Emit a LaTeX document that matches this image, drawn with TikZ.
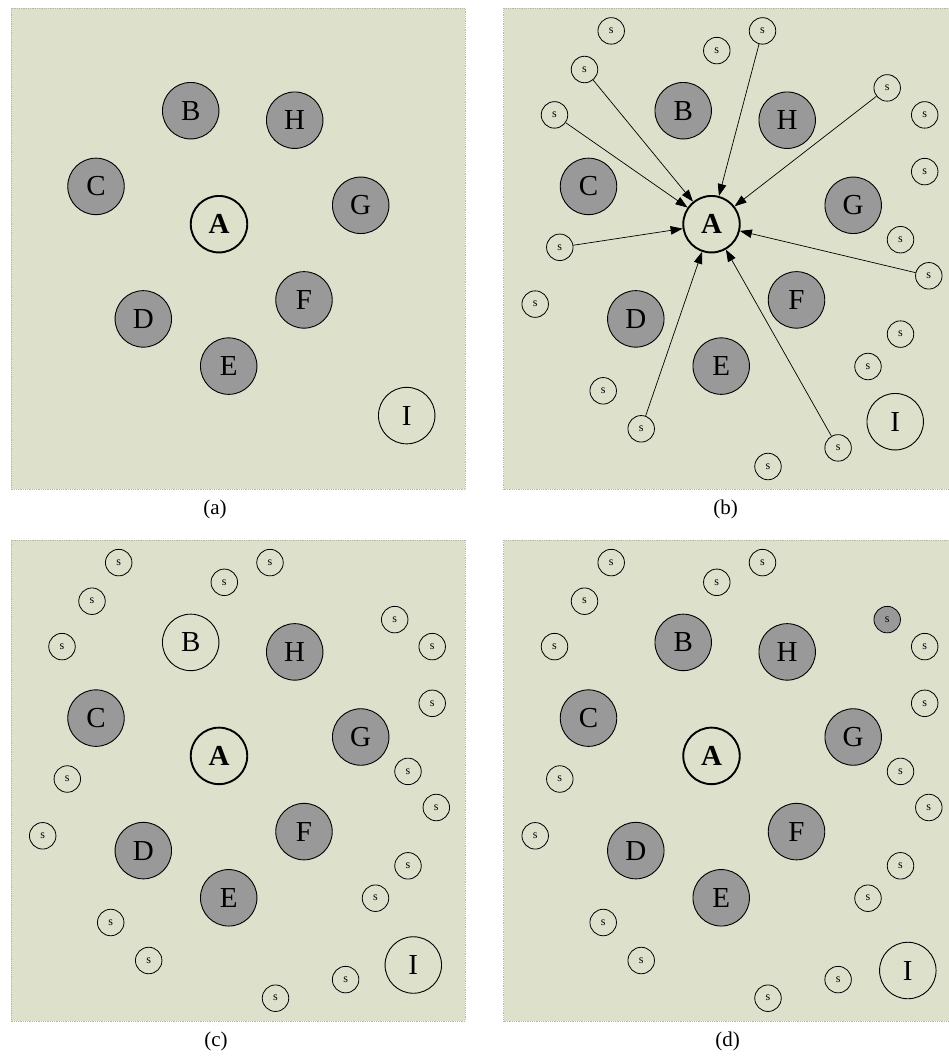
\documentclass[tikz,border=0pt]{standalone}
\usepackage{fontspec}
\setmainfont{Liberation Serif}
\usetikzlibrary{arrows.meta}
\definecolor{bgc}{HTML}{DDE1CC}
\definecolor{nodegray}{HTML}{999999}
\definecolor{boxc}{HTML}{B4B8A4}
\tikzset{
  boxline/.style={draw=boxc, densely dotted, line width=0.8pt, fill=bgc},
  big/.style={circle, draw=black, line width=0.9pt, minimum size=56.5pt, inner sep=0pt, font=\fontsize{29}{29}\selectfont},
  gnode/.style={big, fill=nodegray},
  anode/.style={big, line width=1.9pt, font=\fontsize{29}{29}\selectfont\bfseries},
  snode/.style={circle, draw=black, line width=0.8pt, minimum size=26.5pt, inner sep=0pt, font=\fontsize{12}{12}\selectfont},
  captext/.style={font=\fontsize{21}{21}\selectfont, inner sep=0pt},
  arr/.style={line width=0.7pt, -{Triangle[length=12pt,width=8.5pt]}},
  d-s6/.style={fill=nodegray}
}
\def\slist{107.7/22.6, 213.3/42.3, 259/22.6, 81/61.2, 51/106.6, 383.7/79.6, 421.2/106.6, 421.2/163.3, 397/231.4, 425.3/267.5, 56.3/239, 31.7/295.8, 397/325.8, 364.5/358.2, 99.7/382.5, 137.7/420.5, 334.6/439.6, 264.5/458.2}
\newcommand\panelbox[1]{\path[boxline] (0,0) rectangle (454,481);}
\newcommand\grayset[1]{%
  \node[gnode] (#1H) at (283.7,111.9) {H};
  \node[gnode] (#1C) at (85,178.1) {C};
  \node[gnode] (#1G) at (349.7,197) {G};
  \node[gnode] (#1F) at (293,291.6) {F};
  \node[gnode] (#1D) at (132.3,310.6) {D};
  \node[gnode] (#1E) at (217.7,357.8) {E};
  \node[anode] (#1A) at (208,215.9) {A};
}
\newcommand\sset[1]{%
  \foreach \x/\y [count=\i] in \slist {\node[snode, #1s\i/.try] (#1s\i) at (\x,\y) {s};}
}
\begin{document}
\begin{tikzpicture}[x=1pt,y=-1pt]
\useasboundingbox (0,0) rectangle (949,1057);
\clip (0,0) rectangle (949,1057);
% panel (a)
\begin{scope}[shift={(11,8.3)}]
  \panelbox{a}
  \node[gnode] (a-B) at (179.7,102.4) {B};
  \grayset{a-}
  \node[big] (a-I) at (395.7,407.3) {I};
  \node[captext] (a-cap) at (204,501) {(a)};
\end{scope}
% panel (b)
\begin{scope}[shift={(503.5,8.3)}]
  \panelbox{b}
  \node[gnode] (b-B) at (179.7,102.4) {B};
  \grayset{b-}
  \node[big] (b-I) at (391.7,413.4) {I};
  \sset{b-}
  \foreach \i in {3,4,5,6,10,11,16,17} {\draw[arr] (b-s\i) -- (b-A);}
  \node[captext] (b-cap) at (222,501) {(b)};
\end{scope}
% panel (c)
\begin{scope}[shift={(11,540)}]
  \panelbox{c}
  \node[big] (c-B) at (179.7,102.4) {B};
  \grayset{c-}
  \node[big] (c-I) at (402.3,425) {I};
  \sset{c-}
  \node[captext] (c-cap) at (205,501) {(c)};
\end{scope}
% panel (d)
\begin{scope}[shift={(503.5,540)}]
  \panelbox{d}
  \node[gnode] (d-B) at (179.7,102.4) {B};
  \grayset{d-}
  \node[big] (d-I) at (404.3,430.5) {I};
  \sset{d-}
  \node[captext] (d-cap) at (224,501) {(d)};
\end{scope}
\end{tikzpicture}
\end{document}
